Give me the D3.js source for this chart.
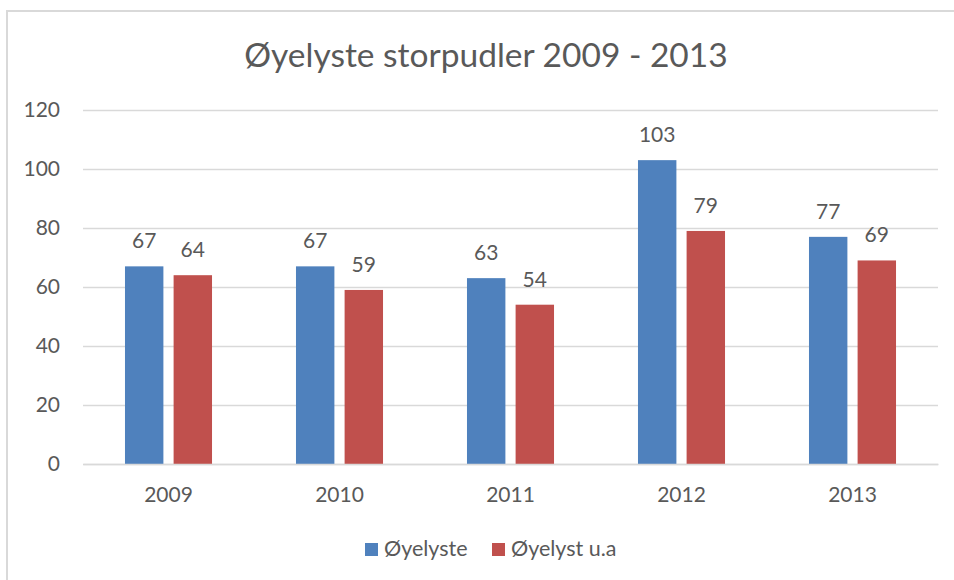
<!DOCTYPE html>
<html>
<head>
<meta charset="utf-8">
<script src="https://cdn.jsdelivr.net/npm/d3@7.9.0/dist/d3.min.js"></script>
<style>
    body { margin: 0; background: #fff; }
    svg { display: block; font-family: Lato, "Open Sans", sans-serif; }
</style>
</head>
<body>
<div id="chart"></div>
<script>
const years = ["2009", "2010", "2011", "2012", "2013"];
const seriesNames = ["Øyelyste", "Øyelyst u.a"];
const oyelyste = [67, 67, 63, 103, 77];
const oyelystUa = [64, 59, 54, 79, 69];
const yTicks = [0, 20, 40, 60, 80, 100, 120];
const colors = ["#4f81bd", "#c0504d"];

const width = 954;
const height = 580;
const plot = { left: 83, right: 938, top: 110, bottom: 464 };
const textColor = "#595959";
const gridColor = "#d9d9d9";

const svg = d3.select("#chart").append("svg")
    .attr("width", width)
    .attr("height", height);

// chart frame (only top and left edges are visible in the picture)
svg.append("rect")
    .attr("x", 7)
    .attr("y", 11)
    .attr("width", 1000)
    .attr("height", 700)
    .attr("fill", "none")
    .attr("stroke", gridColor)
    .attr("stroke-width", 2);

svg.append("text")
    .attr("x", 486)
    .attr("y", 67)
    .attr("text-anchor", "middle")
    .attr("fill", textColor)
    .style("font-size", "33.5px")
    .text("Øyelyste storpudler 2009 - 2013");

const yScale = d3.scaleLinear()
    .domain([0, 120])
    .range([plot.bottom, plot.top]);

const x0 = d3.scaleBand()
    .domain(years)
    .range([plot.left, plot.right])
    .paddingInner(0.491)
    .paddingOuter(0.2455);

const x1 = d3.scaleBand()
    .domain(seriesNames)
    .range([0, x0.bandwidth()])
    .paddingInner(0.21);

const yAxis = svg.append("g")
    .attr("transform", "translate(" + plot.left + ",0)")
    .call(d3.axisLeft(yScale)
        .tickValues(yTicks)
        .tickSize(-(plot.right - plot.left))
        .tickPadding(23));
yAxis.select(".domain").remove();
yAxis.selectAll("line")
    .attr("stroke", gridColor)
    .attr("stroke-width", 1.3);
yAxis.selectAll("text")
    .attr("fill", textColor)
    .style("font-size", "21px")
    .style("font-family", "Lato, sans-serif");

const rows = years.map((y, i) => ({ year: y, values: [oyelyste[i], oyelystUa[i]] }));

const groups = svg.selectAll(".year")
    .data(rows)
    .join("g")
    .attr("class", "year")
    .attr("transform", d => "translate(" + x0(d.year) + ",0)");

groups.selectAll("rect")
    .data(d => d.values.map((v, k) => ({ name: seriesNames[k], value: v, color: colors[k] })))
    .join("rect")
    .attr("x", d => x1(d.name))
    .attr("y", d => yScale(d.value))
    .attr("width", x1.bandwidth())
    .attr("height", d => yScale(0) - yScale(d.value))
    .attr("fill", d => d.color);

groups.selectAll(".bar-label")
    .data(d => d.values.map((v, k) => ({ name: seriesNames[k], value: v })))
    .join("text")
    .attr("class", "bar-label")
    .attr("x", d => x1(d.name) + x1.bandwidth() / 2)
    .attr("y", d => yScale(d.value) - 18)
    .attr("text-anchor", "middle")
    .attr("fill", textColor)
    .style("font-size", "21px")
    .text(d => d.value);

const xAxis = svg.append("g")
    .attr("transform", "translate(0," + plot.bottom + ")")
    .call(d3.axisBottom(x0).tickSize(0).tickPadding(0));
xAxis.select(".domain")
    .attr("stroke", gridColor)
    .attr("stroke-width", 1.3);
xAxis.selectAll("text")
    .attr("fill", textColor)
    .attr("dy", null)
    .attr("y", 38)
    .style("font-size", "21px")
    .style("font-family", "Lato, sans-serif");

// legend
const legendX = [365, 492];
const legend = svg.selectAll(".legend")
    .data(seriesNames)
    .join("g")
    .attr("class", "legend")
    .attr("transform", (d, i) => "translate(" + legendX[i] + ",543)");
legend.append("rect")
    .attr("width", 13)
    .attr("height", 13)
    .attr("fill", (d, i) => colors[i]);
legend.append("text")
    .attr("x", 19)
    .attr("y", 13)
    .attr("fill", textColor)
    .style("font-size", "21.5px")
    .text(d => d);
</script>
</body>
</html>
